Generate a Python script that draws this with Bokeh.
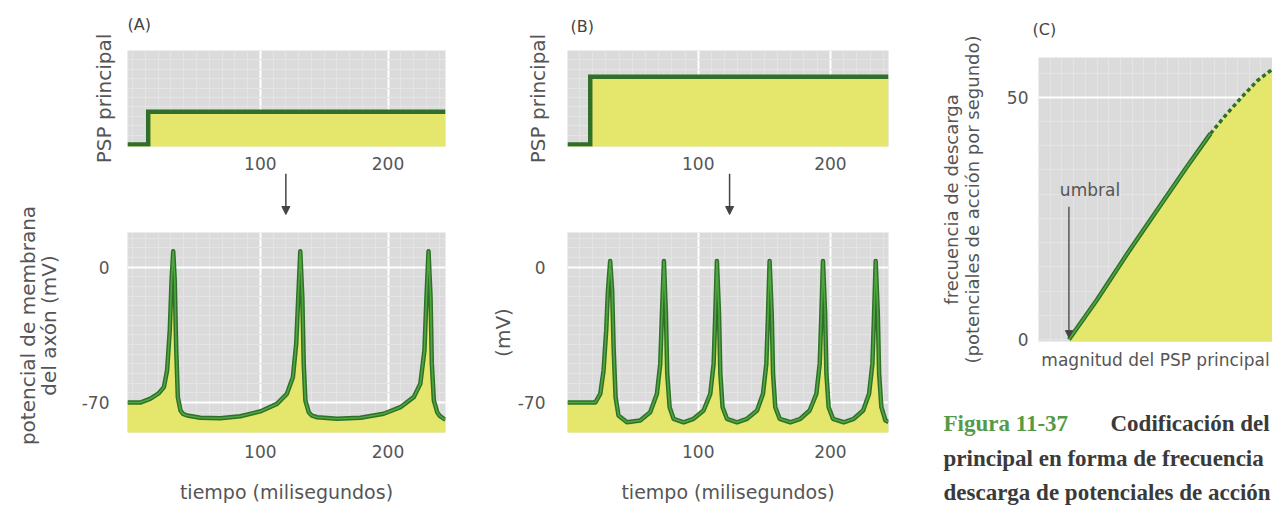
import math
from bokeh.plotting import figure
from bokeh.layouts import row, column
from bokeh.models import Range1d, FixedTicker, Arrow, NormalHead, Label
from bokeh.embed import file_html
from bokeh.resources import INLINE

# ---------------- data ----------------
time_ticks = [100, 200]
vm_ticks = [-70, 0]
rate_ticks = [0, 50]

# (A) weak principal PSP: step
psp_a_t = [-4, 12.2, 12.2, 245]
psp_a_v = [0, 0, 0.35, 0.35]
# (B) strong principal PSP: step
psp_b_t = [1, 18.2, 18.2, 244]
psp_b_v = [0, 0, 0.72, 0.72]

# (A) axon membrane potential (ms, mV)
vm_a_t = [-4, 6, 14, 20.3, 24.5, 27, 29.1, 30.5, 31.8, 33, 34.1, 35.4, 37.5, 39.5, 42.7,
          53, 68.6, 84.3, 99.9, 113, 120.8, 125.5, 128.1, 129.7, 131.3, 132.9, 134,
          135.3, 137.9, 140.5, 144.5, 160.1, 178.4, 196.6, 209.7, 220.1, 225.3, 228.5, 230.1,
          231.7, 233.3, 234.3, 235.9, 238.5, 240.5, 243.7, 245]
vm_a_v = [-70, -70, -68, -65.3, -62, -53.4, -32.7, -6.8, 8.3, -6.8, -41.4, -67.2, -74.1, -75.9, -76.7,
          -77.9, -78.1, -77.1, -74.6, -70.7, -65.5, -56.9, -39.6, -15.5, 8.3, -15.5, -50,
          -69, -75, -76.8, -77.6, -78.4, -77.9, -75.8, -72.4, -67.2, -60.3, -43.1, -15.4,
          8.3, -15.4, -50, -69, -75, -76.9, -78.4, -78.8]

# (B) axon membrane potential (ms, mV)
vm_b_t = [1, 22, 25.8, 28.3, 30.3, 31.6, 33.3, 34.8, 35.9, 37.4, 39.6, 46, 56, 63.6,
          68.7, 71.2, 72.5, 74, 75.5, 76.5, 78.3, 81.3, 88.9, 96.4, 104, 109.1, 111.6,
          112.9, 114.1, 115.7, 116.7, 118.4, 121.7, 129.3, 136.9, 144.5, 149, 151.5,
          152.8, 154, 155.6, 156.6, 158.3, 161.6, 169.7, 177.3, 184.3, 189.4, 191.9,
          193.2, 194.4, 196, 197, 198.7, 202, 210.1, 217.7, 224.8, 229.3, 231.8,
          233.1, 234.3, 235.9, 236.9, 238.6, 241.7, 244]
vm_b_v = [-70, -70, -65.5, -53.4, -32.7, -12, 3.2, -12, -41.4, -67.2, -76.7, -80.2, -79.3, -75,
          -65.5, -50, -24, 3.2, -24, -55, -72.4, -78.4, -80.2, -78.4, -74.1, -65.5, -50,
          -24, 3.2, -24, -55, -72.4, -78.4, -80.2, -78.4, -74.1, -65.5, -50,
          -24, 3.2, -24, -55, -72.4, -78.4, -80.2, -78.4, -74.1, -65.5, -50,
          -24, 3.2, -24, -55, -72.4, -78.4, -80.2, -78.4, -74.1, -65.5, -50,
          -24, 3.2, -24, -55, -72.4, -79.3, -80]

# (C) firing frequency vs. PSP magnitude (arbitrary magnitude units)
rate_solid_mag = [1.3, 2.5, 3.9, 5.35, 6.35, 7.35]
rate_solid_hz = [0, 8.2, 18.5, 28.7, 35.7, 42.5]
rate_dash_mag = [7.35, 8.05, 8.7, 9.35, 10.0]
rate_dash_hz = [42.5, 46.6, 50.1, 53.4, 55.8]
threshold_mag = 1.3

# ---------------- style ----------------
GRAY = "#dbdbdb"
MINOR = "#e4e4e4"
YEL = "#e4e76b"
GDARK = "#2f6f2a"
GLIGHT = "#4fa83f"
TXT = "#555555"
FONT = "DejaVu Sans"
TICK_LABELS = {-70: "-70", 0: "0", 50: "50", 100: "100", 200: "200"}


def blank(w, h, xr, yr, left=0, right=0):
    p = figure(width=w, height=h, x_range=Range1d(*xr), y_range=Range1d(*yr),
               output_backend="svg", toolbar_location=None,
               min_border_left=left, min_border_right=right,
               min_border_top=0, min_border_bottom=0,
               x_axis_location=None, y_axis_location=None,
               outline_line_color=None, background_fill_color="white")
    p.frame_align = False
    p.grid.visible = False
    return p


def panel(w, h, xr, yr, left, right, top, bottom):
    p = figure(width=w, height=h, x_range=Range1d(*xr), y_range=Range1d(*yr),
               output_backend="svg", toolbar_location=None,
               min_border_left=left, min_border_right=right,
               min_border_top=top, min_border_bottom=bottom,
               background_fill_color=GRAY, border_fill_color="white",
               outline_line_color=None)
    p.frame_align = False
    for ax in p.axis:
        ax.axis_line_color = None
        ax.major_tick_line_color = None
        ax.minor_tick_line_color = None
        ax.major_label_text_font = FONT
        ax.major_label_text_font_size = "17px"
        ax.major_label_text_color = TXT
        ax.major_label_overrides = TICK_LABELS
        ax.axis_label_text_font = FONT
        ax.axis_label_text_font_style = "normal"
        ax.axis_label_text_color = TXT
    for g in p.grid:
        g.grid_line_color = "white"
        g.grid_line_width = 2
        g.minor_grid_line_color = MINOR
        g.minor_grid_line_width = 1
    return p


def set_x(p, ticks, minor):
    t = FixedTicker(ticks=ticks, minor_ticks=minor)
    p.xaxis.ticker = t
    p.xgrid.ticker = t


def set_y(p, ticks, minor, grid_ticks=None):
    t = FixedTicker(ticks=ticks, minor_ticks=minor)
    p.yaxis.ticker = t
    p.ygrid.ticker = t if grid_ticks is None else FixedTicker(ticks=grid_ticks, minor_ticks=minor)


def green_line(p, x, y):
    p.line(x, y, line_color=GDARK, line_width=4.5, line_join="round")
    p.line(x, y, line_color=GLIGHT, line_width=1.6, line_join="round")


def title(p, text, standoff, offset=0):
    p.title.text = text
    p.title.align = "left"
    p.title.vertical_align = "top"
    p.title.offset = offset
    p.title.standoff = standoff
    p.title.text_font = FONT
    p.title.text_font_size = "16px"
    p.title.text_font_style = "normal"
    p.title.text_color = "#444444"


def add_arrow(p, x, y0, y1, size=8, width=1.5):
    p.add_layout(Arrow(end=NormalHead(size=size, fill_color="#444444", line_color="#444444"),
                       x_start=x, y_start=y0, x_end=x, y_end=y1,
                       line_color="#444444", line_width=width))


t_minor = list(range(0, 250, 10))
psp_minor = [i / 10 for i in range(0, 11)]
vm_minor = list(range(-85, 20, 5))


def psp_panel(w, xr, left, right, t, v, lab_standoff):
    p = panel(w, 172, xr, (-0.02, 1.0), left, right, 50, 24)
    set_x(p, time_ticks, t_minor)
    set_y(p, [], psp_minor)
    p.xaxis.major_label_standoff = 4
    p.yaxis.major_label_standoff = 0
    p.yaxis.axis_label = "PSP principal"
    p.yaxis.axis_label_text_font_size = "20px"
    p.yaxis.axis_label_standoff = lab_standoff
    p.varea(x=t, y1=-0.05, y2=v, fill_color=YEL)
    p.line(t, v, line_color=GDARK, line_width=4.5, line_join="miter")
    return p


def arrow_panel(w, xr, left, right, x):
    p = blank(w, 60, xr, (0, 1), left, right)
    add_arrow(p, x, 0.98, 0.3)
    return p


def vm_panel(w, xr, left, right, t, v, label, tick_standoff, lab_standoff):
    p = panel(w, 273, xr, (-85.5, 18), left, right, 0, 73)
    set_x(p, time_ticks, t_minor)
    set_y(p, vm_ticks, vm_minor)
    p.xaxis.major_label_standoff = 6
    p.xaxis.axis_label = "tiempo (milisegundos)"
    p.xaxis.axis_label_text_font_size = "19px"
    p.xaxis.axis_label_standoff = 20
    p.yaxis.major_label_standoff = tick_standoff
    if label:
        p.yaxis.axis_label = label
        p.yaxis.axis_label_text_font_size = "20px"
        p.yaxis.axis_label_standoff = lab_standoff
    p.varea(x=t, y1=-90, y2=v, fill_color=YEL)
    green_line(p, t, v)
    return p


# ---------------- column A ----------------
# the long two-line y title of the lower (A) panel spans into the arrow gap, so it
# lives in its own full-height strip
a_lab = blank(64, 505, (0, 64), (0, 505))
for xx, txt in [(27, "potencial de membrana"), (48, "del axón (mV)")]:
    a_lab.add_layout(Label(x=xx, y=180, text=txt, angle=math.pi / 2,
                           text_align="center", text_baseline="middle",
                           text_font=FONT, text_font_size="20px", text_color=TXT))
a_top = psp_panel(396, (-4, 245), 63, 15, psp_a_t, psp_a_v, 8)
title(a_top, "(A)", 29)
a_arrow = arrow_panel(396, (-4, 245), 63, 15, 120)
a_bot = vm_panel(396, (-4, 245), 63, 15, vm_a_t, vm_a_v, None, 12, 0)
col_a = row(a_lab, column(a_top, a_arrow, a_bot, spacing=0), spacing=0)

# ---------------- column B ----------------
b_top = psp_panel(440, (1, 244), 107, 12, psp_b_t, psp_b_v, 14)
title(b_top, "(B)", 26, offset=3)
b_arrow = arrow_panel(440, (1, 244), 107, 12, 123.7)
b_bot = vm_panel(440, (1, 244), 107, 12, vm_b_t, vm_b_v, "(mV)", 16, 0)
col_b = column(b_top, b_arrow, b_bot, spacing=0)

# ---------------- column C ----------------
c = panel(372, 372, (0, 10), (-0.4, 58.2), 138, 0, 57, 30)
title(c, "(C)", 34, offset=-6)
set_x(c, [], [i / 2 for i in range(0, 21)])
set_y(c, rate_ticks, list(range(0, 60, 5)), grid_ticks=[50])
c.xaxis.major_label_standoff = 0
c.xaxis.axis_label = "magnitud del PSP principal"
c.xaxis.axis_label_text_font_size = "17px"
c.xaxis.axis_label_standoff = 4
c.yaxis.major_label_standoff = 4
c.yaxis.axis_label = "frecuencia de descarga\n(potenciales de acción por segundo)"
c.yaxis.axis_label_text_font_size = "18px"
c.yaxis.axis_label_text_line_height = 1.0
c.yaxis.axis_label_standoff = 21
all_mag = rate_solid_mag + rate_dash_mag[1:]
all_hz = rate_solid_hz + rate_dash_hz[1:]
c.varea(x=all_mag, y1=-1, y2=all_hz, fill_color=YEL)
green_line(c, rate_solid_mag, rate_solid_hz)
c.line(rate_dash_mag, rate_dash_hz, line_color=GDARK, line_width=3.5, line_dash="4 3")
add_arrow(c, threshold_mag, 27.4, 0.4, size=7, width=1.3)
c.add_layout(Label(x=2.2, y=30.9, text="umbral", text_align="center", text_baseline="middle",
                   text_font=FONT, text_font_size="17px", text_color=TXT))

cap = blank(372, 133, (0, 372), (133, 0))
CAP_FONT = "Liberation Serif"
cap_lines = [
    (43, 51, "Figura 11-37", "#559a48"),
    (210, 51, "Codificación del", "#3a3a3a"),
    (43, 86, "principal en forma de frecuencia", "#3a3a3a"),
    (43, 120, "descarga de potenciales de acción", "#3a3a3a"),
]
for x, y, txt, col in cap_lines:
    cap.add_layout(Label(x=x, y=y, text=txt, text_align="left", text_baseline="middle",
                         text_font=CAP_FONT, text_font_size="23px", text_font_style="bold",
                         text_color=col))
col_c = column(c, cap, spacing=0)

layout = row(col_a, col_b, col_c, spacing=0)

html = file_html(layout, INLINE)
html = html.replace("</head>", "<style>body{margin:0;padding:0;}</style></head>", 1)
open("out.html", "w").write(html)
